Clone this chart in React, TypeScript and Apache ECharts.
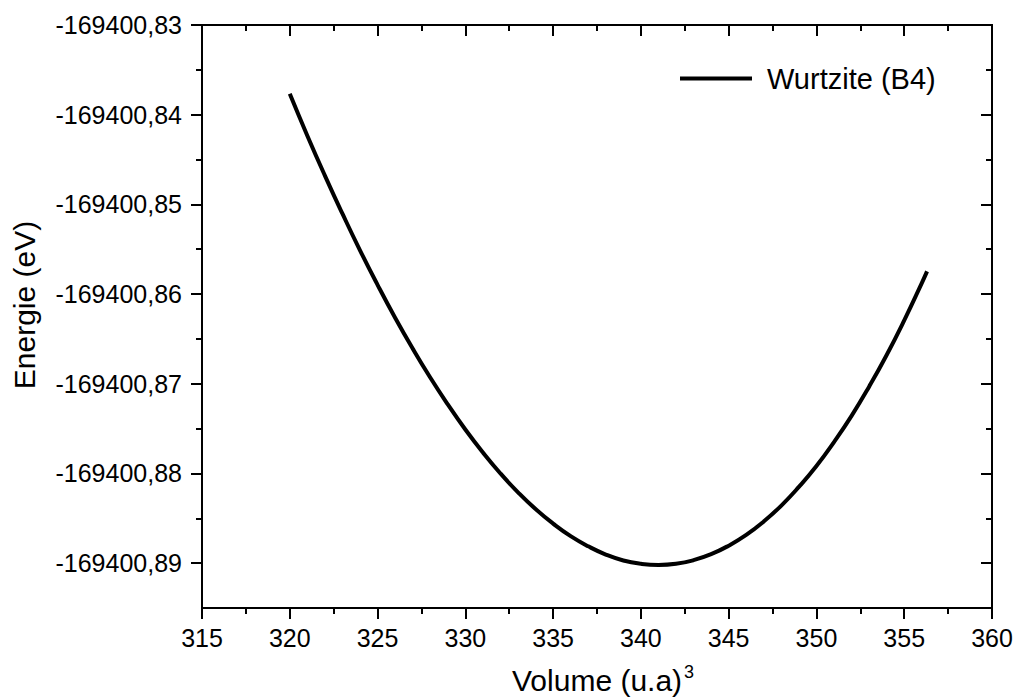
import React, { useEffect, useRef } from "react";
import * as echarts from "echarts";

const volumes = [320, 321, 322, 323, 324, 325, 326, 327, 328, 329, 330, 331, 332, 333, 334, 335, 336, 337, 338, 339, 340, 341, 342, 343, 344, 345, 346, 347, 348, 349, 350, 351, 352, 353, 354, 355, 356, 356.3];
const energies = [
  -169400.83767, -169400.84234, -169400.84679, -169400.85104, -169400.85512, -169400.85897,
  -169400.86263, -169400.86607, -169400.86930, -169400.87230, -169400.87510, -169400.87766,
  -169400.88000, -169400.88210, -169400.88397, -169400.88559, -169400.88699, -169400.88812,
  -169400.88904, -169400.88970, -169400.89007, -169400.89020, -169400.89007, -169400.88967,
  -169400.88900, -169400.88805, -169400.88685, -169400.88535, -169400.88358, -169400.88150,
  -169400.87917, -169400.87650, -169400.87358, -169400.87032, -169400.86679, -169400.86293,
  -169400.85878, -169400.85747,
];
const yMajorTicks = [-169400.89, -169400.88, -169400.87, -169400.86, -169400.85, -169400.84, -169400.83];
const yMinorTicks = [-169400.885, -169400.875, -169400.865, -169400.855, -169400.845, -169400.835];
const seriesName = "Wurtzite (B4)";

const FONT = "'Liberation Sans', Arial, sans-serif";

export default function App() {
  const ref = useRef<HTMLDivElement>(null);
  useEffect(() => {
    if (!ref.current) return;
    const chart = echarts.init(ref.current, null, { renderer: "svg" });
    const yMin = -169400.895;
    const yMax = -169400.83;
    const axisLine = { show: true, lineStyle: { color: "#000", width: 2 } };
    const baseY = (extra: any) => ({
      type: "value",
      min: yMin,
      max: yMax,
      scale: true,
      splitLine: { show: false },
      axisLine,
      ...extra,
    });
    const option: any = {
      animation: false,
      backgroundColor: "#fff",
      textStyle: { fontFamily: FONT },
      grid: { left: 202, right: 24, top: 25, bottom: 90, containLabel: false },
      legend: {
        show: true,
        left: 675,
        top: 59,
        itemWidth: 72,
        itemHeight: 14,
        icon: "path://M0,6 L72,6 L72,10 L0,10 Z",
        data: [seriesName],
        textStyle: { fontSize: 29, color: "#000", fontFamily: FONT, padding: [0, 0, 0, 10] },
      },
      xAxis: [
        {
          type: "value",
          position: "bottom",
          min: 315,
          max: 360,
          interval: 5,
          splitLine: { show: false },
          axisLine,
          axisTick: { show: true, inside: false, length: 11, lineStyle: { color: "#000", width: 2 } },
          minorTick: { show: true, splitNumber: 2, length: 6, lineStyle: { color: "#000", width: 2 } },
          minorSplitLine: { show: false },
          axisLabel: { show: true, fontSize: 25, color: "#000", margin: 17, fontFamily: FONT },
        },
        {
          type: "value",
          position: "top",
          min: 315,
          max: 360,
          interval: 5,
          splitLine: { show: false },
          axisLine,
          axisTick: { show: true, inside: true, length: 11, lineStyle: { color: "#000", width: 2 } },
          minorTick: { show: true, splitNumber: 2, length: 6, lineStyle: { color: "#000", width: 2 } },
          axisLabel: { show: false },
        },
      ],
      yAxis: [
        baseY({
          position: "left",
          axisTick: { show: true, inside: false, length: 11, customValues: yMajorTicks, lineStyle: { color: "#000", width: 2 } },
          axisLabel: {
            show: true,
            customValues: yMajorTicks,
            fontSize: 25,
            color: "#000",
            margin: 20,
            fontFamily: FONT,
            formatter: (v: number) => v.toFixed(2).replace(".", ","),
          },
        }),
        baseY({
          position: "right",
          axisTick: { show: true, inside: true, length: 11, customValues: yMajorTicks, lineStyle: { color: "#000", width: 2 } },
          axisLabel: { show: false },
        }),
        baseY({
          position: "left",
          axisTick: { show: true, inside: false, length: 6, customValues: yMinorTicks, lineStyle: { color: "#000", width: 2 } },
          axisLabel: { show: false },
        }),
        baseY({
          position: "right",
          axisTick: { show: true, inside: true, length: 6, customValues: yMinorTicks, lineStyle: { color: "#000", width: 2 } },
          axisLabel: { show: false },
        }),
      ],
      series: [
        {
          name: seriesName,
          type: "line",
          xAxisIndex: 0,
          yAxisIndex: 0,
          smooth: true,
          symbol: "none",
          showSymbol: false,
          itemStyle: { color: "#000" },
          lineStyle: { color: "#000", width: 4 },
          data: volumes.map((v, i) => [v, energies[i]]),
        },
      ],
      graphic: [
        {
          type: "text",
          x: 24,
          y: 305,
          rotation: Math.PI / 2,
          style: {
            text: "Energie (eV)",
            fontSize: 30,
            fontFamily: FONT,
            fill: "#000",
            align: "center",
            verticalAlign: "middle",
          },
        },
        {
          type: "text",
          x: 512,
          y: 679,
          style: {
            text: "{a|Volume (u.a)}{s|3}",
            fontFamily: FONT,
            fill: "#000",
            align: "left",
            verticalAlign: "middle",
            rich: {
              a: { fontSize: 30, fontFamily: FONT, fill: "#000", lineHeight: 32, verticalAlign: "bottom" },
              s: { fontSize: 18, fontFamily: FONT, fill: "#000", lineHeight: 32, verticalAlign: "top", padding: [0, 0, 0, 2] },
            },
          },
        },
      ],
    };
    chart.setOption(option);
    return () => chart.dispose();
  }, []);
  return (
    <div
      ref={ref}
      style={{ position: "fixed", left: 0, top: 0, width: 1016, height: 698, background: "#fff" }}
    />
  );
}
